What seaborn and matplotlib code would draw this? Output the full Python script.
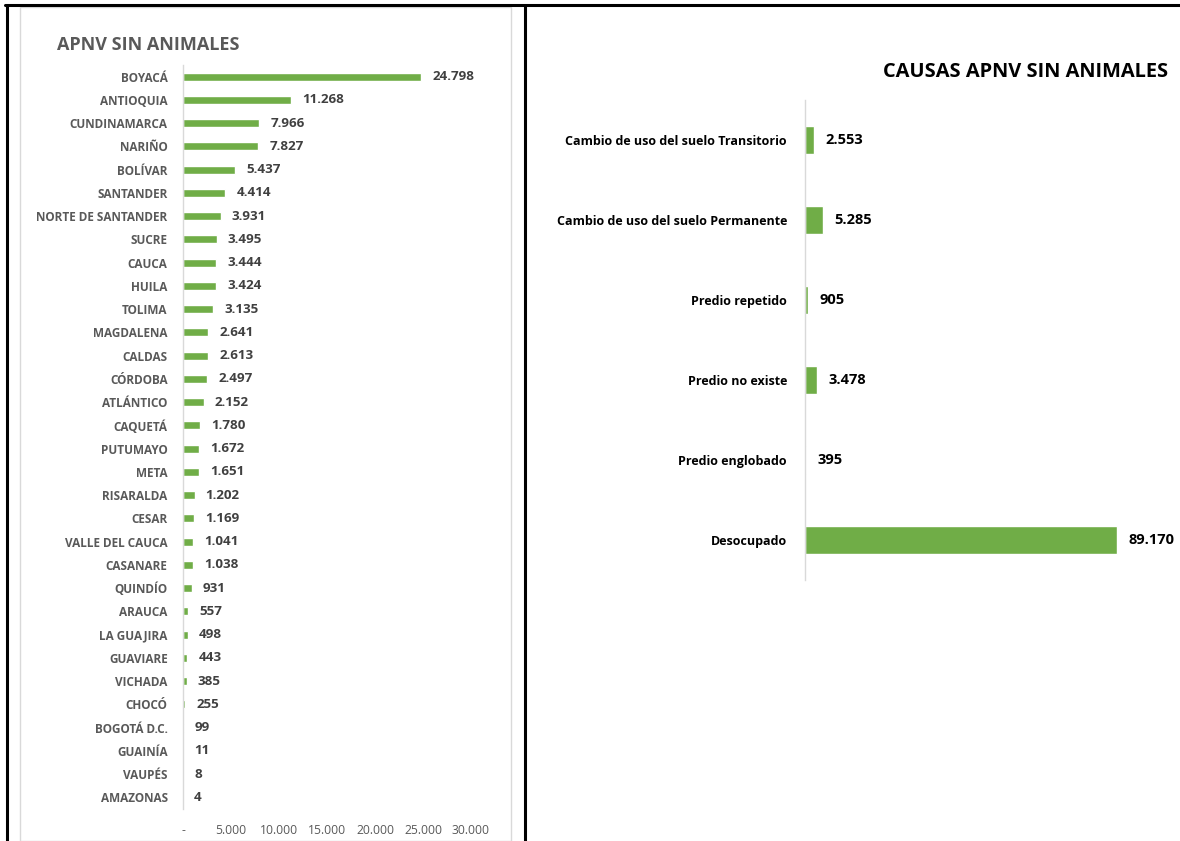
import matplotlib.pyplot as plt
import matplotlib.ticker as mticker
from matplotlib.lines import Line2D
from matplotlib.patches import Rectangle
import pandas as pd
import seaborn as sns

departamentos = [
    "BOYACÁ", "ANTIOQUIA", "CUNDINAMARCA", "NARIÑO", "BOLÍVAR", "SANTANDER",
    "NORTE DE SANTANDER", "SUCRE", "CAUCA", "HUILA", "TOLIMA", "MAGDALENA",
    "CALDAS", "CÓRDOBA", "ATLÁNTICO", "CAQUETÁ", "PUTUMAYO", "META",
    "RISARALDA", "CESAR", "VALLE DEL CAUCA", "CASANARE", "QUINDÍO", "ARAUCA",
    "LA GUAJIRA", "GUAVIARE", "VICHADA", "CHOCÓ", "BOGOTÁ D.C.", "GUAINÍA",
    "VAUPÉS", "AMAZONAS",
]
apnv_sin_animales = [
    24798, 11268, 7966, 7827, 5437, 4414, 3931, 3495, 3444, 3424, 3135, 2641,
    2613, 2497, 2152, 1780, 1672, 1651, 1202, 1169, 1041, 1038, 931, 557,
    498, 443, 385, 255, 99, 11, 8, 4,
]
ticks_izq = [0, 5000, 10000, 15000, 20000, 25000, 30000]

causas = [
    "Cambio de uso del suelo Transitorio",
    "Cambio de uso del suelo Permanente",
    "Predio repetido",
    "Predio no existe",
    "Predio englobado",
    "Desocupado",
]
apnv_causas = [2553, 5285, 905, 3478, 395, 89170]

W, H = 1180, 841
GREEN = "#70AD47"
FONT = ["Open Sans", "DejaVu Sans"]


def px_axes(fig, left, top, right, bottom):
    return fig.add_axes([left / W, 1 - bottom / H, (right - left) / W, (bottom - top) / H])


def miles(v):
    return f"{v:,.0f}".replace(",", ".")


sns.set_theme(style="white")
plt.rcParams["font.family"] = FONT

fig = plt.figure(figsize=(W / 100, H / 100), dpi=100)

# marco de la tabla y del grafico izquierdo
fig.add_artist(Rectangle((20 / W, 0), (511 - 20) / W, 1 - 7 / H, transform=fig.transFigure,
                         fill=False, edgecolor="#D9D9D9", linewidth=1))
for xs, ys in [([7, 7], [5, 841]), ([525, 525], [5, 841]), ([5, 1180], [5, 5])]:
    fig.add_artist(Line2D([x / W for x in xs], [1 - y / H for y in ys],
                          transform=fig.transFigure, color="black", linewidth=2.2))

# izquierda: APNV sin animales por departamento
df_dep = pd.DataFrame({"departamento": departamentos, "apnv": apnv_sin_animales})
ax1 = px_axes(fig, 183, 65, 471, 809)
sns.barplot(data=df_dep, x="apnv", y="departamento", color=GREEN, saturation=1,
            width=0.34, ax=ax1)
ax1.set_xlim(0, 30000)
ax1.set_ylim(len(departamentos) - 0.5, -0.5)
ax1.set_xticks(ticks_izq)
ax1.xaxis.set_major_formatter(mticker.FuncFormatter(lambda v, _: "-" if v == 0 else miles(v)))
ax1.set_xlabel("")
ax1.set_ylabel("")
ax1.tick_params(axis="x", length=0, pad=11, labelsize=8.7, labelcolor="#595959")
ax1.tick_params(axis="y", length=0, pad=11, labelsize=8.5, labelcolor="#595959")
for lab in ax1.get_yticklabels():
    lab.set_fontweight("bold")
for side in ["top", "right", "bottom"]:
    ax1.spines[side].set_visible(False)
ax1.spines["left"].set_color("#D9D9D9")
ax1.spines["left"].set_linewidth(1)
ax1.bar_label(ax1.containers[0], labels=[miles(v) for v in apnv_sin_animales],
              padding=8, fontsize=9.6, fontweight="bold", color="#404040")
fig.text(57 / W, 1 - 45 / H, "APNV SIN ANIMALES", ha="left", va="center",
         fontsize=13, fontweight="bold", color="#595959")

# derecha: causas
df_causas = pd.DataFrame({"causa": causas, "apnv": apnv_causas})
ax2 = px_axes(fig, 805, 100, 1155, 580)
sns.barplot(data=df_causas, x="apnv", y="causa", color=GREEN, saturation=1,
            width=0.35, ax=ax2)
ax2.set_xlim(0, 100000)
ax2.set_ylim(len(causas) - 0.5, -0.5)
ax2.set_xticks([])
ax2.set_xlabel("")
ax2.set_ylabel("")
ax2.tick_params(axis="y", length=0, pad=13, labelsize=9, labelcolor="black")
for lab in ax2.get_yticklabels():
    lab.set_fontweight("bold")
for side in ["top", "right", "bottom"]:
    ax2.spines[side].set_visible(False)
ax2.spines["left"].set_color("#D9D9D9")
ax2.spines["left"].set_linewidth(1)
ax2.bar_label(ax2.containers[0], labels=[miles(v) for v in apnv_causas],
              padding=8, fontsize=10.5, fontweight="bold", color="black")
fig.text(1168 / W, 1 - 72 / H, "CAUSAS APNV SIN ANIMALES", ha="right", va="center",
         fontsize=14.4, fontweight="bold", color="black")

fig.savefig("out.png", dpi=100)
